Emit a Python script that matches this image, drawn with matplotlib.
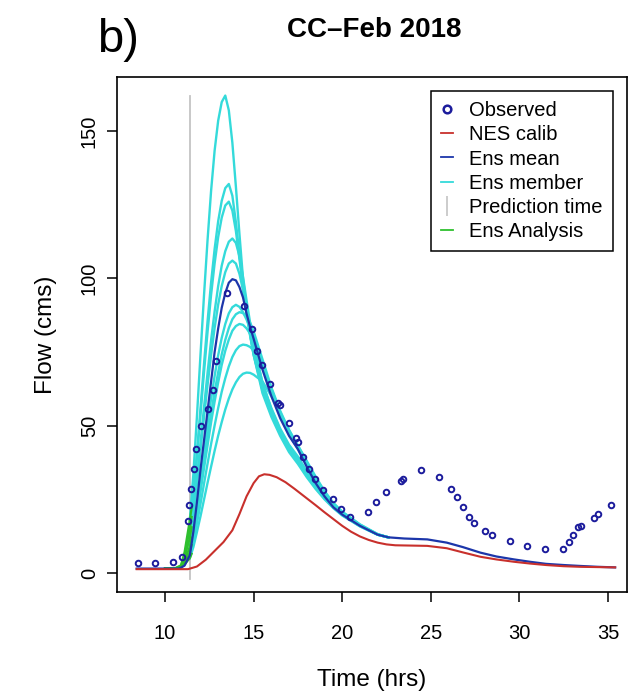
import matplotlib
matplotlib.use("Agg")
import matplotlib.pyplot as plt
from matplotlib.lines import Line2D

plt.rcParams['font.family'] = ['Liberation Sans', 'DejaVu Sans']

# ---------------- data ----------------
obs_t = [8.48, 9.46, 10.47, 10.98, 11.31, 11.37, 11.47, 11.64, 11.77, 12.01, 12.44, 12.69, 12.88,
         13.48, 14.46, 14.89, 15.21, 15.49, 15.93, 16.36, 16.49, 17.0, 17.4, 17.5, 17.81, 18.13,
         18.47, 18.94, 19.46, 19.93, 20.44, 21.44, 21.89, 22.45, 23.3, 23.45, 24.45, 25.46, 26.12,
         26.46, 26.83, 27.16, 27.46, 28.04, 28.47, 29.47, 30.45, 31.44, 32.44, 32.8, 33.04, 33.32,
         33.46, 34.2, 34.45, 35.15]
obs_q = [3.5, 3.5, 3.6, 5.3, 17.7, 23, 28.4, 35.2, 42, 50, 55.6, 62.1, 71.9,
         95.1, 90.7, 82.7, 75.3, 70.6, 64, 57.8, 57, 51, 45.9, 44.6, 39.5, 35.2,
         31.8, 28.2, 25, 21.6, 19.1, 20.8, 24.2, 27.4, 31.3, 31.8, 34.9, 32.5, 28.5,
         25.9, 22.3, 19.1, 17.1, 14.3, 12.9, 10.8, 9.2, 8.0, 8.1, 10.5, 12.9, 15.5,
         15.9, 18.8, 19.9, 23.1]

red_t = [8.4, 11.3, 11.8, 12.3, 12.8, 13.3, 13.8, 14.2, 14.6, 15.0, 15.3, 15.6, 15.9, 16.3, 16.8,
         17.3, 17.9, 18.5, 19.0, 19.5, 20.0, 20.5, 21.0, 21.5, 22.0, 22.5, 23.0, 24.8, 25.9, 26.8,
         27.8, 28.7, 29.7, 30.6, 31.5, 32.5, 33.4, 34.4, 35.4]
red_q = [1.3, 1.3, 2.2, 4.5, 7.5, 10.5, 14.5, 20, 26, 30.5, 32.8, 33.5, 33.3, 32.5, 30.8,
         28.6, 25.8, 23.0, 20.6, 18.3, 16.0, 14.0, 12.4, 11.2, 10.3, 9.7, 9.4, 9.2, 8.4, 7.0,
         5.5, 4.6, 3.8, 3.2, 2.7, 2.3, 2.1, 2.0, 1.9]

mean_t = [8.4, 10.8, 11.1, 11.4, 11.6, 11.8, 12.0, 12.2, 12.4, 12.6, 12.8, 13.0, 13.2, 13.4, 13.6,
          13.8, 14.0, 14.2, 14.4, 14.6, 14.8, 15.0, 15.5, 16.0, 16.5, 17.0, 17.5, 18.0, 18.5, 19.0,
          19.5, 20.0, 21.0, 22.0, 22.6, 23.5, 24.8, 25.9, 26.8, 27.8, 28.7, 29.7, 30.6, 31.5, 32.5,
          33.4, 34.4, 35.4]
mean_q = [1.5, 1.5, 2.5, 6, 14, 24, 35, 45, 55, 65, 75, 83, 90, 95, 98.5,
          99.7, 99.3, 97, 93.5, 88, 83.5, 79.5, 69, 60, 52.5, 46.5, 42, 36, 30.5, 26,
          22.3, 19.8, 16, 13, 12.1, 11.7, 11.4, 10.3, 8.8, 6.9, 5.6, 4.6, 3.8, 3.1, 2.7,
          2.4, 2.1, 1.9]

member_t = [11.4, 11.6, 11.8, 12.0, 12.2, 12.4, 12.6, 12.8, 13.0, 13.2, 13.4, 13.6, 13.8, 14.0,
            14.2, 14.4, 14.6, 14.8, 15.0, 15.5, 16.0, 16.5, 17.0, 17.5, 18.0, 18.5, 19.0, 19.5,
            20.0, 21.0, 22.0, 22.6]
member_1 = [18, 33.6, 53, 73.9, 94.2, 113, 129.7, 143.4, 153.5, 159.8, 162, 157, 146, 131, 115, 100,
            90, 81, 74, 61, 53, 46.5, 41, 37, 32.5, 28.5, 25, 22, 19.5, 15.8, 13, 12.1]
member_2 = [15, 26.3, 40.6, 55.7, 70.9, 85.4, 98.6, 110, 119.4, 126.3, 130.6, 132, 128, 119, 108, 97,
            88, 80.5, 74, 62, 54, 47.5, 42, 38, 33, 29, 25.3, 22.2, 19.7, 15.9, 13, 12.1]
member_3 = [15, 25.7, 39.3, 53.6, 68.1, 81.8, 94.4, 105.1, 114, 120.6, 124.7, 126, 123, 116, 106.5, 97,
            88.5, 81, 74.5, 62.5, 54.5, 48, 42.5, 38.5, 33.5, 29.3, 25.5, 22.3, 19.8, 16, 13, 12.1]
member_4 = [12, 20.8, 32, 44.1, 56.2, 67.9, 79, 88.8, 97.4, 104.3, 109.2, 112.4, 113.5, 112, 107.5, 100.5,
            92.5, 85, 78, 64.5, 55.5, 48.5, 43, 39, 34, 29.7, 25.7, 22.4, 19.9, 16, 13, 12.1]
member_5 = [12, 20.2, 30.5, 41.7, 52.9, 63.8, 74, 83.2, 91.1, 97.4, 102.1, 105, 106, 105, 101.5, 96,
            89.5, 83, 77, 64.5, 56, 49, 43.5, 39.5, 34.5, 30, 26, 22.5, 20, 16, 13, 12.1]
member_6 = [9, 15.4, 23.8, 32.6, 41.8, 50.7, 59.1, 66.9, 73.9, 79.8, 84.5, 88.1, 90.2, 91, 90.3, 88.5,
            86, 83, 80, 71, 62, 54, 47, 42, 36.5, 31.2, 26.7, 23, 20.2, 16.1, 13, 12.1]
member_7 = [9, 14.7, 22, 30, 38.3, 46.3, 54.2, 61.5, 68.1, 74.2, 79.1, 83.1, 86.1, 87.8, 88.5, 88.2,
            87, 85, 82, 72.5, 63, 55, 48.5, 43, 37.5, 32, 27.2, 23.3, 20.4, 16.2, 13.1, 12.1]
member_8 = [7, 12.6, 19.7, 27.5, 35.5, 43.3, 51.1, 58.2, 64.7, 70.6, 75.4, 79.2, 82.2, 83.8, 84.5, 84.2,
            83, 81.2, 79, 71, 62.5, 54.5, 48, 42.8, 37.4, 32, 27.3, 23.4, 20.5, 16.3, 13.1, 12.1]
member_9 = [6, 10.7, 16.8, 23.4, 30.3, 37.1, 43.8, 50.1, 56, 61.5, 66.1, 70.1, 73.3, 75.6, 77, 77.5,
            77.3, 76.7, 75.5, 70, 62, 54.5, 48, 43, 37.6, 32.3, 27.5, 23.6, 20.7, 16.4, 13.1, 12.1]
member_10 = [5, 8.8, 13.9, 19.2, 24.9, 30.6, 36.1, 41.5, 46.6, 51.2, 55.5, 59.2, 62.3, 64.7, 66.5, 67.6,
             68, 67.9, 67.3, 65, 60, 54, 48.5, 43.3, 38, 32.7, 27.8, 23.8, 20.8, 16.5, 13.2, 12.1]
members = [member_1, member_2, member_3, member_4, member_5,
           member_6, member_7, member_8, member_9, member_10]

analysis_t = [10.0, 10.6, 10.9, 11.1, 11.25, 11.4, 11.5]
analysis_1 = [1.5, 1.5, 1.8, 2.8, 4.0, 5, 6.5]
analysis_2 = [1.5, 1.5, 1.9, 3.4, 5.2, 7, 9.5]
analysis_3 = [1.5, 1.5, 2.0, 4.0, 6.5, 9, 12]
analysis_4 = [1.5, 1.6, 2.2, 5.0, 8.5, 12, 15.5]
analysis_5 = [1.5, 1.6, 2.4, 6.0, 10.5, 15, 19]
analysis_6 = [1.5, 1.7, 2.6, 7.0, 12.5, 18, 22]
analyses = [analysis_1, analysis_2, analysis_3, analysis_4, analysis_5, analysis_6]

prediction_time = 11.4
prediction_range = [-2, 162]

xticks = [10, 15, 20, 25, 30, 35]
yticks = [0, 50, 100, 150]
labels = ["Observed", "NES calib", "Ens mean", "Ens member", "Prediction time", "Ens Analysis"]

# ---------------- colours ----------------
c_obs = '#1c1c9c'
c_red = '#c8302c'
c_mean = '#1c36aa'
c_mem = '#34dada'
c_pred = '#c4c4c4'
c_ana = '#2ec02e'

# ---------------- figure ----------------
fig = plt.figure(figsize=(6.33, 6.95), dpi=100)
ax = fig.add_axes([117/633, 1-592/695, 510/633, 515/695])

ax.plot([prediction_time, prediction_time], prediction_range, color=c_pred, lw=1.3, zorder=1)
for m in members:
    ax.plot(member_t, m, color=c_mem, lw=1.7, zorder=2)
for a in analyses:
    ax.plot(analysis_t, a, color=c_ana, lw=1.6, zorder=3)
ax.plot(mean_t, mean_q, color=c_mean, lw=1.6, zorder=4)
ax.plot(red_t, red_q, color=c_red, lw=1.5, zorder=5)
ax.plot(obs_t, obs_q, linestyle='none', marker='o', ms=4.0, mfc='none',
        mec=c_obs, mew=1.4, zorder=6)

ax.set_xlim(7.29, 36.07)
ax.set_ylim(-6.45, 168.3)
ax.set_xticks(xticks)
ax.set_yticks(yticks)
ax.tick_params(direction='out', length=7, width=1.1, labelsize=14.5, colors='black')
ax.tick_params(axis='x', pad=16)
ax.tick_params(axis='y', pad=6)
for lab in ax.get_yticklabels():
    lab.set_rotation(90)
    lab.set_va('center')
for s in ax.spines.values():
    s.set_linewidth(1.2)

ax.set_xlabel("Time (hrs)", fontsize=17.5)
ax.set_ylabel("Flow (cms)", fontsize=17.5)
ax.xaxis.set_label_coords(0.5, (592-680)/515)
ax.xaxis.label.set_va('center')
ax.yaxis.set_label_coords((46-117)/510, 0.5)
ax.yaxis.label.set_va('center')

fig.text(374/633, 1-30/695, "CC\u2013Feb 2018", fontsize=20, fontweight='bold',
         ha='center', va='center')
fig.text(97/633, 1-40/695, "b)", fontsize=34, ha='left', va='center')

handles = [
    Line2D([], [], linestyle='none', marker='o', ms=5.5, mfc='none', mec=c_obs, mew=1.8),
    Line2D([], [], color=c_red, lw=1.3),
    Line2D([], [], color=c_mean, lw=1.3),
    Line2D([], [], color=c_mem, lw=1.3),
    Line2D([], [], linestyle='none', marker='|', ms=15, mec=c_pred, mew=1.2),
    Line2D([], [], color=c_ana, lw=1.3),
]
leg = ax.legend(handles, labels, loc='upper right',
                bbox_to_anchor=((613-117)/510, (592-91)/515), borderaxespad=0,
                fontsize=14.5, handlelength=0.6, handletextpad=0.8, labelspacing=0.26,
                borderpad=0.5, fancybox=False, framealpha=1, edgecolor='black')
leg.get_frame().set_linewidth(1.1)

fig.savefig("out.png", dpi=100)
